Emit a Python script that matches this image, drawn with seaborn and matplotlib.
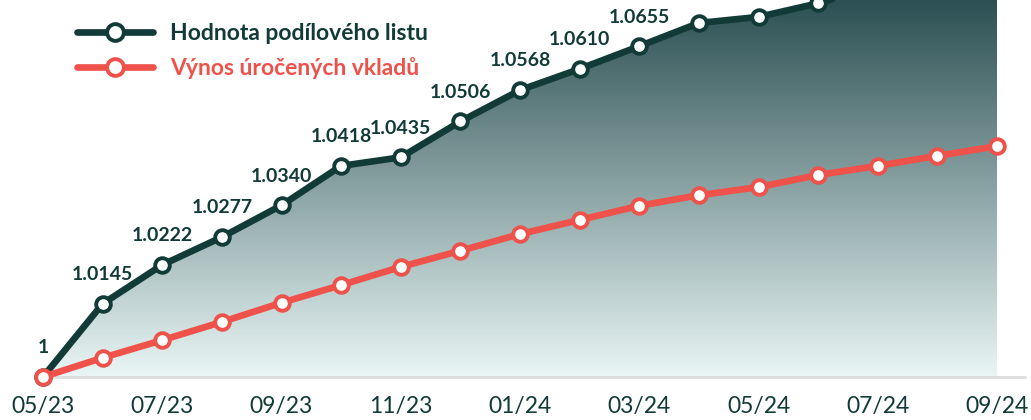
import numpy as np
import pandas as pd
import matplotlib
matplotlib.use("Agg")
import matplotlib.pyplot as plt
import seaborn as sns
from matplotlib.colors import LinearSegmentedColormap

# ============================
# Data
# ============================
months = ["05/23", "06/23", "07/23", "08/23", "09/23", "10/23", "11/23", "12/23",
          "01/24", "02/24", "03/24", "04/24", "05/24", "06/24", "07/24", "08/24", "09/24"]
fund_values = [1.0, 1.0145, 1.0222, 1.0277, 1.0340, 1.0418, 1.0435, 1.0506,
               1.0568, 1.0610, 1.0655, 1.0701, 1.0713, 1.0740, 1.0775, 1.0805, 1.0835]
fund_labels = ["1", "1.0145", "1.0222", "1.0277", "1.0340", "1.0418", "1.0435", "1.0506",
               "1.0568", "1.0610", "1.0655", "1.0701", "1.0713", "1.0740", "1.0775", "1.0805", "1.0835"]
deposit_values = [1.0, 1.0038, 1.0073, 1.0109, 1.0147, 1.0182, 1.0218, 1.0250,
                  1.0283, 1.0311, 1.0339, 1.0360, 1.0376, 1.0400, 1.0418, 1.0438, 1.0457]
tick_labels = months[::2]

series_fund = "Hodnota podílového listu"
series_deposit = "Výnos úročených vkladů"

DARK = "#123b38"
RED = "#ef524a"

df = pd.DataFrame({"idx": np.arange(len(months)), "fund": fund_values, "deposit": deposit_values})

sns.set_style("white")
plt.rcParams["font.family"] = ["Lato", "DejaVu Sans"]

fig = plt.figure(figsize=(10.31, 4.2), dpi=100)
ax = fig.add_axes([0, 30 / 420, 1, 390 / 420])

x_lo = -43 / 59.625
x_hi = (1031 - 43) / 59.625
y_lo = 1 - 13 / 5050
y_hi = 1 + 377 / 5050
ax.set_xlim(x_lo, x_hi)
ax.set_ylim(y_lo, y_hi)

# ============================
# Gradient fill under fund line
# ============================
cmap = LinearSegmentedColormap.from_list("teal", ["#e9f6f5", "#2c5053"])
grad = np.linspace(0, 1, 256).reshape(-1, 1)
poly = ax.fill_between(df["idx"], 1.0, df["fund"], color="none", lw=0)
img = ax.imshow(grad, cmap=cmap, origin="lower", aspect="auto",
                extent=[0, len(months) - 1, 1.0, y_hi], zorder=1)
img.set_clip_path(poly.get_paths()[0], transform=ax.transData)

# baseline
ax.hlines(1.0, 0, x_hi - 0.08, color="#dddddd", lw=2, zorder=1.5)

# ============================
# Lines
# ============================
sns.lineplot(data=df, x="idx", y="fund", ax=ax, color=DARK, lw=4.8,
             marker="o", markersize=10.5, markerfacecolor="white",
             markeredgecolor=DARK, markeredgewidth=2.8, zorder=3,
             label=series_fund, clip_on=True)
sns.lineplot(data=df, x="idx", y="deposit", ax=ax, color=RED, lw=4.8,
             marker="o", markersize=10.5, markerfacecolor="white",
             markeredgecolor=RED, markeredgewidth=2.8, zorder=4,
             label=series_deposit, clip_on=False)

for i, (v, lab) in enumerate(zip(fund_values, fund_labels)):
    ax.annotate(lab, (i, v), xytext=(0, 21), textcoords="offset points",
                ha="center", va="center", fontsize=14, fontweight="bold",
                color=DARK, annotation_clip=False)

# ============================
# Axes styling
# ============================
ax.set_xticks(np.arange(0, len(months), 2))
ax.set_xticklabels(tick_labels)
ax.tick_params(axis="x", length=0, pad=4, labelsize=16.5, labelcolor="#123b38")
ax.set_yticks([])
ax.set_xlabel("")
ax.set_ylabel("")
for s in ax.spines.values():
    s.set_visible(False)

leg = ax.legend(loc="upper left", bbox_to_anchor=(68 / 1031, 1 - 14 / 390),
                frameon=False, fontsize=16.5, handlelength=3.3, handletextpad=0.75,
                labelspacing=0.55, borderaxespad=0, markerscale=1.15)
for txt, c in zip(leg.get_texts(), [DARK, RED]):
    txt.set_color(c)
    txt.set_fontweight("bold")

fig.savefig("out.png", dpi=100)
